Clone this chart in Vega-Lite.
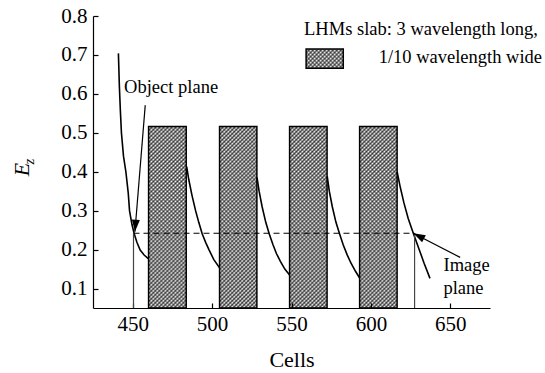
{
"$schema":"https://vega.github.io/schema/vega-lite/v6.json",
"width":397,"height":292,
"autosize":"none",
"padding":{"left":93,"top":16,"right":55,"bottom":65},
"background":"white",
"config":{"view":{"stroke":null},"font":"Liberation Serif",
"style":{"guide-label":{"font":"Liberation Serif"},"guide-title":{"font":"Liberation Serif"}},
"axisY":{"labelFont":"Liberation Serif"},"axisLeft":{"labelFont":"Liberation Serif"},
"axis":{"grid":false,"domainColor":"black","tickColor":"black","labelColor":"black","titleColor":"black","labelFont":"Liberation Serif","titleFont":"Liberation Serif","labelFontSize":21,"titleFontSize":22,"titleFontWeight":"normal","domainWidth":1.2,"tickWidth":1.2}},
"datasets":{
"bars":[{"x0":460,"x1":483.7,"top":0.516},{"x0":504.7,"x1":528.2,"top":0.516},{"x0":548.8,"x1":572.4,"top":0.516},{"x0":592.9,"x1":616.5,"top":0.516}],
"legendbox":[{"x0":559.2,"x1":582.6,"y0":0.666,"y1":0.715}],
"curves":[
{"seg":1,"x":441.0,"y":0.704},{"seg":1,"x":441.6,"y":0.62},{"seg":1,"x":442.2,"y":0.56},{"seg":1,"x":442.9,"y":0.5},{"seg":1,"x":444.2,"y":0.44},{"seg":1,"x":445.7,"y":0.4},{"seg":1,"x":447.2,"y":0.345},{"seg":1,"x":448.0,"y":0.3},{"seg":1,"x":449.5,"y":0.265},{"seg":1,"x":451.0,"y":0.24},{"seg":1,"x":452.7,"y":0.218},{"seg":1,"x":454.7,"y":0.199},{"seg":1,"x":457.2,"y":0.186},{"seg":1,"x":460.0,"y":0.176},
{"seg":2,"x":484.0,"y":0.413},{"seg":2,"x":485.3,"y":0.38},{"seg":2,"x":487.3,"y":0.34},{"seg":2,"x":489.6,"y":0.3},{"seg":2,"x":491.6,"y":0.27},{"seg":2,"x":493.8,"y":0.24},{"seg":2,"x":496.0,"y":0.218},{"seg":2,"x":498.0,"y":0.2},{"seg":2,"x":501.0,"y":0.175},{"seg":2,"x":504.7,"y":0.153},
{"seg":3,"x":528.3,"y":0.385},{"seg":3,"x":529.6,"y":0.35},{"seg":3,"x":531.5,"y":0.31},{"seg":3,"x":533.8,"y":0.27},{"seg":3,"x":536.0,"y":0.24},{"seg":3,"x":538.3,"y":0.213},{"seg":3,"x":540.5,"y":0.19},{"seg":3,"x":543.0,"y":0.17},{"seg":3,"x":545.8,"y":0.15},{"seg":3,"x":548.8,"y":0.135},
{"seg":4,"x":572.5,"y":0.388},{"seg":4,"x":573.8,"y":0.35},{"seg":4,"x":575.7,"y":0.31},{"seg":4,"x":578.0,"y":0.27},{"seg":4,"x":580.3,"y":0.24},{"seg":4,"x":582.6,"y":0.212},{"seg":4,"x":585.0,"y":0.187},{"seg":4,"x":587.5,"y":0.165},{"seg":4,"x":590.2,"y":0.145},{"seg":4,"x":592.9,"y":0.127},
{"seg":5,"x":616.5,"y":0.4},{"seg":5,"x":618.5,"y":0.36},{"seg":5,"x":620.8,"y":0.32},{"seg":5,"x":623.5,"y":0.28},{"seg":5,"x":626.7,"y":0.242},{"seg":5,"x":630.0,"y":0.205},{"seg":5,"x":633.5,"y":0.165},{"seg":5,"x":637.2,"y":0.126}],
"planes":[{"x":450.5,"y":0.242},{"x":627.5,"y":0.242}],
"dashed":[{"x":450.5,"x2":627.5,"y":0.242}],
"arrows":[{"name":"object","x":457.9,"y":0.571,"x2":451.4,"y2":0.246},{"name":"image","x":656.2,"y":0.18,"x2":626.7,"y2":0.242}],
"labels":[{"text":"Object plane","x":444.6,"y":0.601},{"text":"Image","x":645.7,"y":0.144},{"text":"plane","x":645.7,"y":0.086},{"text":"LHMs slab: 3 wavelength long,","x":557.9,"y":0.751},{"text":"1/10 wavelength wide","x":604.9,"y":0.679}],
"sub":[{"text":"z","x":384.5,"y":0.426}]
},
"layer":[
{"data":{"name":"bars"},
"mark":{"type":"rect","fillOpacity":0.65,"fill":{"gradient":"linear","x1":0,"y1":0,"x2":0.2378,"y2":1.1566,"stops":[
{"offset":0,"color":"#000"},{"offset":0.0091,"color":"transparent"},{"offset":0.0182,"color":"#000"},{"offset":0.0273,"color":"transparent"},{"offset":0.0364,"color":"#000"},{"offset":0.0455,"color":"transparent"},{"offset":0.0545,"color":"#000"},{"offset":0.0636,"color":"transparent"},{"offset":0.0727,"color":"#000"},{"offset":0.0818,"color":"transparent"},
{"offset":0.0909,"color":"#000"},{"offset":0.1,"color":"transparent"},{"offset":0.1091,"color":"#000"},{"offset":0.1182,"color":"transparent"},{"offset":0.1273,"color":"#000"},{"offset":0.1364,"color":"transparent"},{"offset":0.1455,"color":"#000"},{"offset":0.1545,"color":"transparent"},{"offset":0.1636,"color":"#000"},{"offset":0.1727,"color":"transparent"},
{"offset":0.1818,"color":"#000"},{"offset":0.1909,"color":"transparent"},{"offset":0.2,"color":"#000"},{"offset":0.2091,"color":"transparent"},{"offset":0.2182,"color":"#000"},{"offset":0.2273,"color":"transparent"},{"offset":0.2364,"color":"#000"},{"offset":0.2455,"color":"transparent"},{"offset":0.2545,"color":"#000"},{"offset":0.2636,"color":"transparent"},
{"offset":0.2727,"color":"#000"},{"offset":0.2818,"color":"transparent"},{"offset":0.2909,"color":"#000"},{"offset":0.3,"color":"transparent"},{"offset":0.3091,"color":"#000"},{"offset":0.3182,"color":"transparent"},{"offset":0.3273,"color":"#000"},{"offset":0.3364,"color":"transparent"},{"offset":0.3455,"color":"#000"},{"offset":0.3545,"color":"transparent"},
{"offset":0.3636,"color":"#000"},{"offset":0.3727,"color":"transparent"},{"offset":0.3818,"color":"#000"},{"offset":0.3909,"color":"transparent"},{"offset":0.4,"color":"#000"},{"offset":0.4091,"color":"transparent"},{"offset":0.4182,"color":"#000"},{"offset":0.4273,"color":"transparent"},{"offset":0.4364,"color":"#000"},{"offset":0.4455,"color":"transparent"},
{"offset":0.4545,"color":"#000"},{"offset":0.4636,"color":"transparent"},{"offset":0.4727,"color":"#000"},{"offset":0.4818,"color":"transparent"},{"offset":0.4909,"color":"#000"},{"offset":0.5,"color":"transparent"},{"offset":0.5091,"color":"#000"},{"offset":0.5182,"color":"transparent"},{"offset":0.5273,"color":"#000"},{"offset":0.5364,"color":"transparent"},
{"offset":0.5455,"color":"#000"},{"offset":0.5545,"color":"transparent"},{"offset":0.5636,"color":"#000"},{"offset":0.5727,"color":"transparent"},{"offset":0.5818,"color":"#000"},{"offset":0.5909,"color":"transparent"},{"offset":0.6,"color":"#000"},{"offset":0.6091,"color":"transparent"},{"offset":0.6182,"color":"#000"},{"offset":0.6273,"color":"transparent"},
{"offset":0.6364,"color":"#000"},{"offset":0.6455,"color":"transparent"},{"offset":0.6545,"color":"#000"},{"offset":0.6636,"color":"transparent"},{"offset":0.6727,"color":"#000"},{"offset":0.6818,"color":"transparent"},{"offset":0.6909,"color":"#000"},{"offset":0.7,"color":"transparent"},{"offset":0.7091,"color":"#000"},{"offset":0.7182,"color":"transparent"},
{"offset":0.7273,"color":"#000"},{"offset":0.7364,"color":"transparent"},{"offset":0.7455,"color":"#000"},{"offset":0.7545,"color":"transparent"},{"offset":0.7636,"color":"#000"},{"offset":0.7727,"color":"transparent"},{"offset":0.7818,"color":"#000"},{"offset":0.7909,"color":"transparent"},{"offset":0.8,"color":"#000"},{"offset":0.8091,"color":"transparent"},
{"offset":0.8182,"color":"#000"},{"offset":0.8273,"color":"transparent"},{"offset":0.8364,"color":"#000"},{"offset":0.8455,"color":"transparent"},{"offset":0.8545,"color":"#000"},{"offset":0.8636,"color":"transparent"},{"offset":0.8727,"color":"#000"},{"offset":0.8818,"color":"transparent"},{"offset":0.8909,"color":"#000"},{"offset":0.9,"color":"transparent"},
{"offset":0.9091,"color":"#000"},{"offset":0.9182,"color":"transparent"},{"offset":0.9273,"color":"#000"},{"offset":0.9364,"color":"transparent"},{"offset":0.9455,"color":"#000"},{"offset":0.9545,"color":"transparent"},{"offset":0.9636,"color":"#000"},{"offset":0.9727,"color":"transparent"},{"offset":0.9818,"color":"#000"},{"offset":0.9909,"color":"transparent"},{"offset":1,"color":"#000"}]}},
"encoding":{
"x":{"field":"x0","type":"quantitative","scale":{"domain":[425,675],"nice":false,"zero":false},
"axis":{"title":"Cells","values":[450,500,550,600,650],"format":"d","labelFont":"Liberation Serif","labelFontSize":21,"tickSize":-5,"labelPadding":10,"titlePadding":15}},
"x2":{"field":"x1"},
"y":{"field":"top","type":"quantitative","scale":{"domain":[0.05,0.8],"nice":false,"zero":false},
"axis":{"title":"E","titleFontStyle":"italic","titleY":153,"values":[0.1,0.2,0.3,0.4,0.5,0.6,0.7,0.8],"format":".1f","labelFont":"Liberation Serif","labelFontSize":21,"tickSize":-5,"labelPadding":11,"titlePadding":27}},
"y2":{"datum":0.05}}},
{"data":{"name":"bars"},
"mark":{"type":"rect","fillOpacity":0.45,"stroke":"black","strokeWidth":1.5,"strokeOpacity":1,"fill":{"gradient":"linear","x1":0,"y1":1,"x2":0.2378,"y2":-0.1566,"stops":[
{"offset":0,"color":"#000"},{"offset":0.0091,"color":"transparent"},{"offset":0.0182,"color":"#000"},{"offset":0.0273,"color":"transparent"},{"offset":0.0364,"color":"#000"},{"offset":0.0455,"color":"transparent"},{"offset":0.0545,"color":"#000"},{"offset":0.0636,"color":"transparent"},{"offset":0.0727,"color":"#000"},{"offset":0.0818,"color":"transparent"},
{"offset":0.0909,"color":"#000"},{"offset":0.1,"color":"transparent"},{"offset":0.1091,"color":"#000"},{"offset":0.1182,"color":"transparent"},{"offset":0.1273,"color":"#000"},{"offset":0.1364,"color":"transparent"},{"offset":0.1455,"color":"#000"},{"offset":0.1545,"color":"transparent"},{"offset":0.1636,"color":"#000"},{"offset":0.1727,"color":"transparent"},
{"offset":0.1818,"color":"#000"},{"offset":0.1909,"color":"transparent"},{"offset":0.2,"color":"#000"},{"offset":0.2091,"color":"transparent"},{"offset":0.2182,"color":"#000"},{"offset":0.2273,"color":"transparent"},{"offset":0.2364,"color":"#000"},{"offset":0.2455,"color":"transparent"},{"offset":0.2545,"color":"#000"},{"offset":0.2636,"color":"transparent"},
{"offset":0.2727,"color":"#000"},{"offset":0.2818,"color":"transparent"},{"offset":0.2909,"color":"#000"},{"offset":0.3,"color":"transparent"},{"offset":0.3091,"color":"#000"},{"offset":0.3182,"color":"transparent"},{"offset":0.3273,"color":"#000"},{"offset":0.3364,"color":"transparent"},{"offset":0.3455,"color":"#000"},{"offset":0.3545,"color":"transparent"},
{"offset":0.3636,"color":"#000"},{"offset":0.3727,"color":"transparent"},{"offset":0.3818,"color":"#000"},{"offset":0.3909,"color":"transparent"},{"offset":0.4,"color":"#000"},{"offset":0.4091,"color":"transparent"},{"offset":0.4182,"color":"#000"},{"offset":0.4273,"color":"transparent"},{"offset":0.4364,"color":"#000"},{"offset":0.4455,"color":"transparent"},
{"offset":0.4545,"color":"#000"},{"offset":0.4636,"color":"transparent"},{"offset":0.4727,"color":"#000"},{"offset":0.4818,"color":"transparent"},{"offset":0.4909,"color":"#000"},{"offset":0.5,"color":"transparent"},{"offset":0.5091,"color":"#000"},{"offset":0.5182,"color":"transparent"},{"offset":0.5273,"color":"#000"},{"offset":0.5364,"color":"transparent"},
{"offset":0.5455,"color":"#000"},{"offset":0.5545,"color":"transparent"},{"offset":0.5636,"color":"#000"},{"offset":0.5727,"color":"transparent"},{"offset":0.5818,"color":"#000"},{"offset":0.5909,"color":"transparent"},{"offset":0.6,"color":"#000"},{"offset":0.6091,"color":"transparent"},{"offset":0.6182,"color":"#000"},{"offset":0.6273,"color":"transparent"},
{"offset":0.6364,"color":"#000"},{"offset":0.6455,"color":"transparent"},{"offset":0.6545,"color":"#000"},{"offset":0.6636,"color":"transparent"},{"offset":0.6727,"color":"#000"},{"offset":0.6818,"color":"transparent"},{"offset":0.6909,"color":"#000"},{"offset":0.7,"color":"transparent"},{"offset":0.7091,"color":"#000"},{"offset":0.7182,"color":"transparent"},
{"offset":0.7273,"color":"#000"},{"offset":0.7364,"color":"transparent"},{"offset":0.7455,"color":"#000"},{"offset":0.7545,"color":"transparent"},{"offset":0.7636,"color":"#000"},{"offset":0.7727,"color":"transparent"},{"offset":0.7818,"color":"#000"},{"offset":0.7909,"color":"transparent"},{"offset":0.8,"color":"#000"},{"offset":0.8091,"color":"transparent"},
{"offset":0.8182,"color":"#000"},{"offset":0.8273,"color":"transparent"},{"offset":0.8364,"color":"#000"},{"offset":0.8455,"color":"transparent"},{"offset":0.8545,"color":"#000"},{"offset":0.8636,"color":"transparent"},{"offset":0.8727,"color":"#000"},{"offset":0.8818,"color":"transparent"},{"offset":0.8909,"color":"#000"},{"offset":0.9,"color":"transparent"},
{"offset":0.9091,"color":"#000"},{"offset":0.9182,"color":"transparent"},{"offset":0.9273,"color":"#000"},{"offset":0.9364,"color":"transparent"},{"offset":0.9455,"color":"#000"},{"offset":0.9545,"color":"transparent"},{"offset":0.9636,"color":"#000"},{"offset":0.9727,"color":"transparent"},{"offset":0.9818,"color":"#000"},{"offset":0.9909,"color":"transparent"},{"offset":1,"color":"#000"}]}},
"encoding":{"x":{"field":"x0","type":"quantitative"},"x2":{"field":"x1"},"y":{"field":"top","type":"quantitative"},"y2":{"datum":0.05}}},
{"data":{"name":"legendbox"},
"mark":{"type":"rect","fillOpacity":0.65,"fill":{"gradient":"linear","x1":0,"y1":0,"x2":1.1986,"y2":0.61,"stops":[
{"offset":0,"color":"#000"},{"offset":0.0357,"color":"transparent"},{"offset":0.0714,"color":"#000"},{"offset":0.1071,"color":"transparent"},{"offset":0.1429,"color":"#000"},{"offset":0.1786,"color":"transparent"},{"offset":0.2143,"color":"#000"},{"offset":0.25,"color":"transparent"},{"offset":0.2857,"color":"#000"},{"offset":0.3214,"color":"transparent"},{"offset":0.3571,"color":"#000"},{"offset":0.3929,"color":"transparent"},{"offset":0.4286,"color":"#000"},{"offset":0.4643,"color":"transparent"},{"offset":0.5,"color":"#000"},{"offset":0.5357,"color":"transparent"},{"offset":0.5714,"color":"#000"},{"offset":0.6071,"color":"transparent"},{"offset":0.6429,"color":"#000"},{"offset":0.6786,"color":"transparent"},{"offset":0.7143,"color":"#000"},{"offset":0.75,"color":"transparent"},{"offset":0.7857,"color":"#000"},{"offset":0.8214,"color":"transparent"},{"offset":0.8571,"color":"#000"},{"offset":0.8929,"color":"transparent"},{"offset":0.9286,"color":"#000"},{"offset":0.9643,"color":"transparent"},{"offset":1,"color":"#000"}]}},
"encoding":{"x":{"field":"x0","type":"quantitative"},"x2":{"field":"x1"},"y":{"field":"y0","type":"quantitative"},"y2":{"field":"y1"}}},
{"data":{"name":"legendbox"},
"mark":{"type":"rect","fillOpacity":0.45,"stroke":"black","strokeWidth":1.5,"strokeOpacity":1,"fill":{"gradient":"linear","x1":0,"y1":1,"x2":1.1986,"y2":0.39,"stops":[
{"offset":0,"color":"#000"},{"offset":0.0357,"color":"transparent"},{"offset":0.0714,"color":"#000"},{"offset":0.1071,"color":"transparent"},{"offset":0.1429,"color":"#000"},{"offset":0.1786,"color":"transparent"},{"offset":0.2143,"color":"#000"},{"offset":0.25,"color":"transparent"},{"offset":0.2857,"color":"#000"},{"offset":0.3214,"color":"transparent"},{"offset":0.3571,"color":"#000"},{"offset":0.3929,"color":"transparent"},{"offset":0.4286,"color":"#000"},{"offset":0.4643,"color":"transparent"},{"offset":0.5,"color":"#000"},{"offset":0.5357,"color":"transparent"},{"offset":0.5714,"color":"#000"},{"offset":0.6071,"color":"transparent"},{"offset":0.6429,"color":"#000"},{"offset":0.6786,"color":"transparent"},{"offset":0.7143,"color":"#000"},{"offset":0.75,"color":"transparent"},{"offset":0.7857,"color":"#000"},{"offset":0.8214,"color":"transparent"},{"offset":0.8571,"color":"#000"},{"offset":0.8929,"color":"transparent"},{"offset":0.9286,"color":"#000"},{"offset":0.9643,"color":"transparent"},{"offset":1,"color":"#000"}]}},
"encoding":{"x":{"field":"x0","type":"quantitative"},"x2":{"field":"x1"},"y":{"field":"y0","type":"quantitative"},"y2":{"field":"y1"}}},
{"data":{"name":"curves"},
"mark":{"type":"line","color":"black","strokeWidth":1.6},
"encoding":{"x":{"field":"x","type":"quantitative"},"y":{"field":"y","type":"quantitative"},"detail":{"field":"seg"}}},
{"data":{"name":"planes"},
"mark":{"type":"rule","color":"#444","strokeWidth":1.2},
"encoding":{"x":{"field":"x","type":"quantitative"},"y":{"field":"y","type":"quantitative"},"y2":{"datum":0.05}}},
{"data":{"name":"dashed"},
"mark":{"type":"rule","color":"black","strokeWidth":1.1,"strokeDash":[6,4]},
"encoding":{"x":{"field":"x","type":"quantitative"},"x2":{"field":"x2"},"y":{"field":"y","type":"quantitative"}}},
{"data":{"name":"arrows"},
"mark":{"type":"rule","color":"black","strokeWidth":1.2},
"encoding":{"x":{"field":"x","type":"quantitative"},"y":{"field":"y","type":"quantitative"},"x2":{"field":"x2"},"y2":{"field":"y2"}}},
{"data":{"name":"arrows"},"transform":[{"filter":"datum.name === 'object'"}],
"mark":{"type":"point","shape":"M0,0L-0.67,-2L0.67,-2Z","size":144,"filled":true,"fill":"black","fillOpacity":1,"strokeWidth":0,"angle":4.6},
"encoding":{"x":{"field":"x2","type":"quantitative"},"y":{"field":"y2","type":"quantitative"}}},
{"data":{"name":"arrows"},"transform":[{"filter":"datum.name === 'image'"}],
"mark":{"type":"point","shape":"M0,0L-0.67,-2L0.67,-2Z","size":144,"filled":true,"fill":"black","fillOpacity":1,"strokeWidth":0,"angle":117.3},
"encoding":{"x":{"field":"x2","type":"quantitative"},"y":{"field":"y2","type":"quantitative"}}},
{"data":{"name":"labels"},
"mark":{"type":"text","align":"left","baseline":"alphabetic","font":"Liberation Serif","fontSize":18.5,"color":"black"},
"encoding":{"x":{"field":"x","type":"quantitative"},"y":{"field":"y","type":"quantitative"},"text":{"field":"text"}}},
{"data":{"name":"sub"},
"mark":{"type":"text","align":"center","baseline":"middle","font":"Liberation Serif","fontStyle":"italic","fontSize":15,"angle":270,"color":"black"},
"encoding":{"x":{"field":"x","type":"quantitative"},"y":{"field":"y","type":"quantitative"},"text":{"field":"text"}}}
]
}
